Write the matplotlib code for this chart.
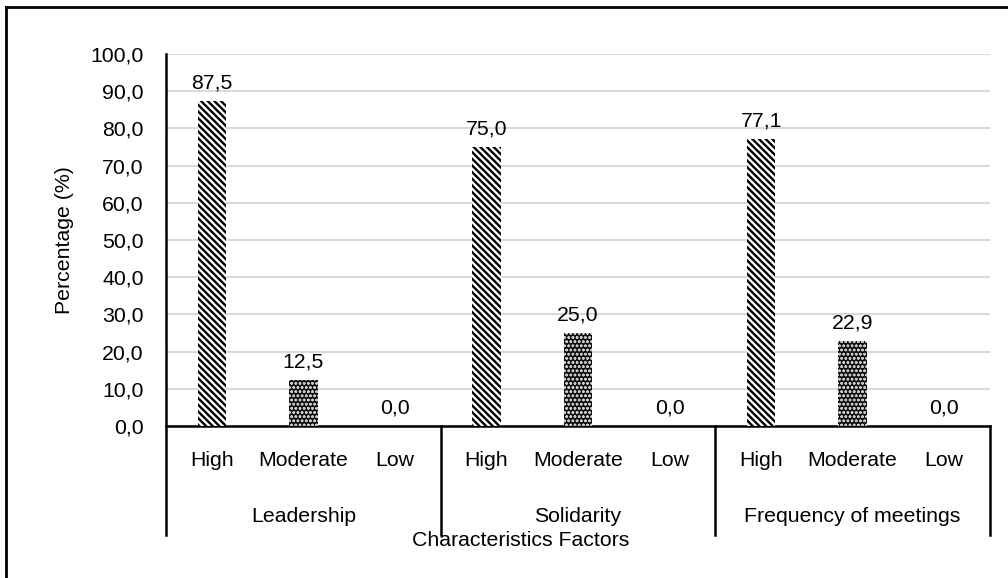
import matplotlib.pyplot as plt
import matplotlib.lines as mlines
from matplotlib.transforms import blended_transform_factory

plt.rcParams["font.family"] = ["Liberation Sans", "DejaVu Sans"]
plt.rcParams["font.size"] = 15.3
plt.rcParams["hatch.linewidth"] = 1.7

# Data
groups = ["Leadership", "Solidarity", "Frequency of meetings"]
levels = ["High", "Moderate", "Low"]
high = [87.5, 75.0, 77.1]
moderate = [12.5, 25.0, 22.9]
low = [0.0, 0.0, 0.0]
yticks = [0, 10, 20, 30, 40, 50, 60, 70, 80, 90, 100]

fig = plt.figure(figsize=(10.08, 5.78), dpi=100)
ax = fig.add_axes([166 / 1008, 1 - 426 / 578, (990 - 166) / 1008, (426 - 54) / 578])

# outer frame (left and top edges visible)
fig.add_artist(mlines.Line2D([6 / 1008, 6 / 1008], [0, 1 - 7 / 578], color="black", lw=2))
fig.add_artist(mlines.Line2D([6 / 1008, 1], [1 - 7 / 578, 1 - 7 / 578], color="black", lw=2))

bw = 0.31
x_high = [g * 3 + 0 for g in range(3)]
x_mod = [g * 3 + 1 for g in range(3)]
x_low = [g * 3 + 2 for g in range(3)]

# High: diagonal stripes
ax.bar(x_high, high, width=bw, color="white", edgecolor="black", hatch="\\\\\\\\\\", linewidth=0, zorder=3)
# Moderate: dark with white dots
ax.bar(x_mod, moderate, width=bw, color="#101010", linewidth=0, zorder=3)
with plt.rc_context({"hatch.linewidth": 0.7}):
    ax.bar(x_mod, moderate, width=bw, color="none", edgecolor="#c8c8c8", hatch="oooo", linewidth=0, zorder=4)
ax.bar(x_low, low, width=bw, color="white", linewidth=0, zorder=3)

# value labels
for xs, vals in [(x_high, high), (x_mod, moderate), (x_low, low)]:
    for x, v in zip(xs, vals):
        ax.annotate(f"{v:.1f}".replace(".", ","), (x, v), xytext=(0, 6), textcoords="offset points",
                    ha="center", va="bottom")

ax.set_xlim(-0.5, 8.5)
ax.set_ylim(0, 100)
ax.set_yticks(yticks)
ax.set_yticklabels([f"{t:.1f}".replace(".", ",") for t in yticks])
ax.tick_params(axis="y", length=0, pad=16)
ax.set_xticks([])
ax.grid(axis="y", color="#d9d9d9", linewidth=1.5, zorder=0)
ax.set_axisbelow(True)
for s in ["top", "right"]:
    ax.spines[s].set_visible(False)
ax.spines["left"].set_linewidth(1.8)
ax.spines["bottom"].set_linewidth(1.8)
ax.set_ylabel("Percentage (%)", labelpad=12)

# multi-level category axis
tr = blended_transform_factory(ax.transData, ax.transAxes)
px = 1 / (426 - 54)  # axes fraction per pixel (vertical)
sep_bottom = -(535 - 426) * px
for xs in [-0.5, 2.5, 5.5, 8.5]:
    ax.plot([xs, xs], [0, sep_bottom], transform=tr, color="black", lw=1.8, clip_on=False)
for g in range(3):
    for i, lev in enumerate(levels):
        ax.text(g * 3 + i, -(461 - 426) * px, lev, transform=tr, ha="center", va="center")
    ax.text(g * 3 + 1, -(516 - 426) * px, groups[g], transform=tr, ha="center", va="center")

fig.text(521 / 1008, 1 - 541 / 578, "Characteristics Factors", ha="center", va="center")

plt.savefig("out.png", dpi=100)
